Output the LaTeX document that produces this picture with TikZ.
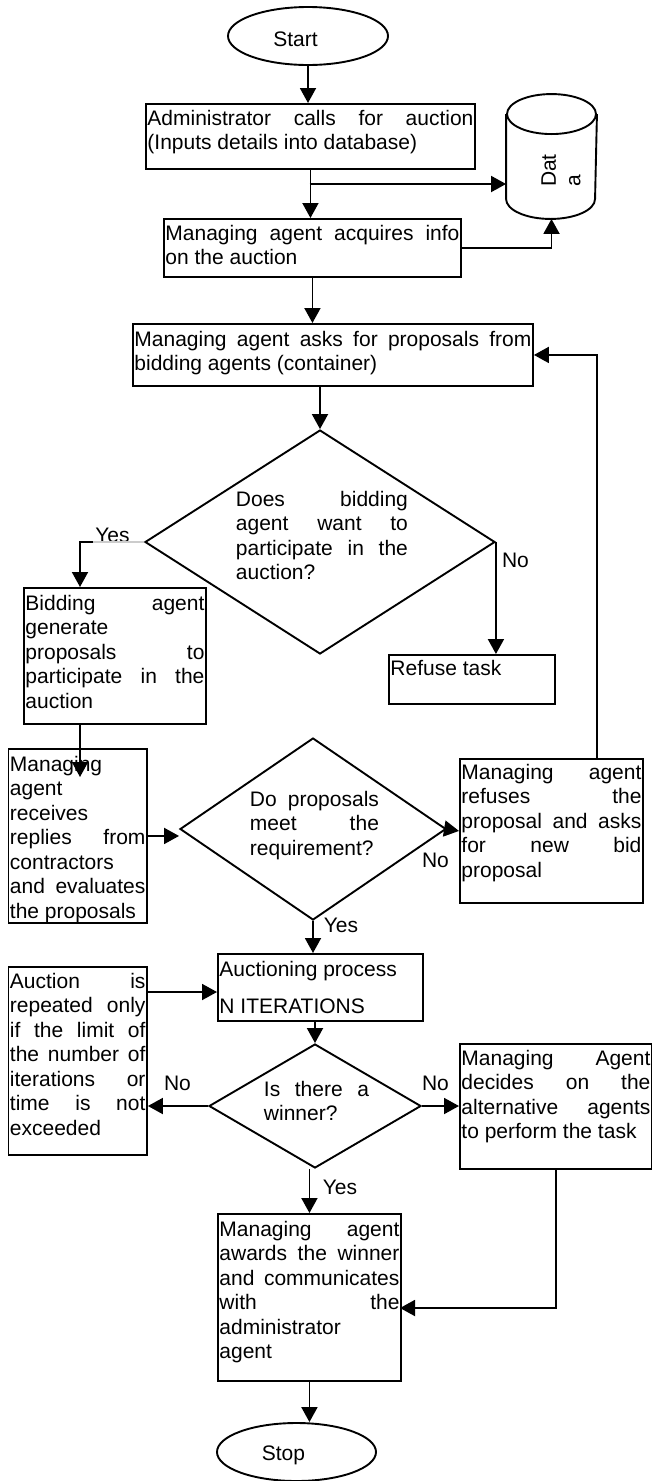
\documentclass[tikz,border=0pt]{standalone}
\usepackage{fontspec}
\setmainfont{Liberation Sans}
\usetikzlibrary{arrows.meta,shapes.geometric,calc}
\newcommand{\bxt}[4][20pt]{\parbox[t][\dimexpr #3-3pt\relax][t]{\dimexpr #2-3pt\relax}{\rule{0pt}{#1}#4}}
\newcommand{\txtb}[2]{\parbox[t]{#1}{\rule{0pt}{21.5pt}#2}}
\begin{document}
\begin{tikzpicture}[x=1pt,y=-1pt,line width=1.9pt,
  every node/.style={font=\fontsize{21}{24.5}\selectfont},
  box/.style={draw,rectangle,inner sep=1.5pt,anchor=north west},
  txtn/.style={inner sep=0pt,anchor=north west},
  lbl/.style={inner sep=0pt},
  term/.style={draw,ellipse,inner sep=0pt},
  dec/.style={draw,diamond,inner sep=0pt},
  arr/.style={-{Triangle[length=15pt,width=16pt]}}]

\useasboundingbox (0,0) rectangle (652,1481);

% terminals
\node[term,minimum width=160pt,minimum height=58pt] (start) at (308,36) {};
\node[lbl] (startt) at (295.5,39) {Start};

% boxes
\node[box] (b1) at (145,103) {\bxt{329pt}{65pt}{Administrator\hfill calls\hfill for\hfill auction\\(Inputs details into database)}};

\node[inner sep=0pt,minimum width=89pt,minimum height=123pt] (db) at (551.5,156.5) {};
\draw ($(db.north)+(0,20)$) ellipse [x radius=44.5pt, y radius=20pt];
\draw ($(db.north west)+(0,20)$) -- ($(db.south west)+(0,-20)$) arc[start angle=180, end angle=360, x radius=44.5pt, y radius=20pt] -- ($(db.north east)+(0,20)$);
\node[lbl,rotate=90,align=left] (dbt) at (561,170.5) {Dat\\a};

\node[box] (b2) at (163,218) {\bxt{297pt}{58pt}{Managing\hfill agent\hfill acquires\hfill info\\on the auction}};

\node[box] (b3) at (132,323) {\bxt[21pt]{400pt}{62pt}{Managing\hfill agent\hfill asks\hfill for\hfill proposals\hfill from\\bidding agents (container)}};

\node[dec,minimum width=350pt,minimum height=224pt] (d1) at (320,542) {};
\node[txtn] (d1t) at (235,484) {\txtb{172pt}{Does\hfill bidding\\agent\hfill want\hfill to\\participate\hfill in\hfill the\\auction?}};

\node[box] (b4) at (23,587) {\bxt[21pt]{182pt}{136pt}{Bidding\hfill agent\\generate\\proposals\hfill to\\participate\hfill in\hfill the\\auction}};

\node[box] (ref) at (388,654) {\bxt[19pt]{166pt}{49pt}{Refuse task}};

\node[box] (b5) at (7.5,748) {\bxt[21pt]{138.5pt}{174pt}{Managing\\agent\\receives\\replies\hfill from\\contractors\\and\hfill evaluates\\the proposals}};

\node[dec,minimum width=266pt,minimum height=182pt] (d2) at (313,829) {};
\node[txtn] (d2t) at (249,784) {\txtb{129pt}{Do\hfill proposals\\meet\hfill the\\requirement?}};

\node[box] (b6) at (459,758) {\bxt[19pt]{183pt}{144pt}{Managing\hfill agent\\refuses\hfill the\\proposal\hfill and\hfill asks\\for\hfill new\hfill bid\\proposal}};

\node[box] (auc) at (217,953) {\bxt[21pt]{205pt}{67pt}{Auctioning process\\[12.5pt]N ITERATIONS}};

\node[box] (b7) at (7.5,966) {\bxt{138.5pt}{188pt}{Auction\hfill is\\repeated\hfill only\\if\hfill the\hfill limit\hfill of\\the\hfill number\hfill of\\iterations\hfill or\\time\hfill is\hfill not\\exceeded}};

\node[dec,minimum width=212pt,minimum height=124pt] (d3) at (315,1106) {};
\node[txtn] (d3t) at (263,1074) {\txtb{105pt}{Is\hfill there\hfill a\\winner?}};

\node[box] (b8) at (459,1043) {\bxt{192pt}{125pt}{Managing\hfill Agent\\decides\hfill on\hfill the\\alternative\hfill agents\\to perform the task}};

\node[box] (aw) at (217,1213) {\bxt[21pt]{183pt}{167pt}{Managing\hfill agent\\awards\hfill the\hfill winner\\and\hfill communicates\\with\hfill the\\administrator\\agent}};

\node[term,minimum width=159pt,minimum height=58pt] (stop) at (296.5,1452) {};
\node[lbl] (stopt) at (283.5,1455) {Stop};

% labels
\node[lbl] (y1) at (112.5,535) {Yes};
\node[lbl] (n1) at (515.5,560) {No};
\node[lbl] (n2) at (435.5,860) {No};
\node[lbl] (y2) at (341,925) {Yes};
\node[lbl] (n3) at (177.5,1083) {No};
\node[lbl] (n4) at (435.5,1083) {No};
\node[lbl] (y3) at (340,1187) {Yes};

% connectors
\draw[arr] (start.south) -- (start.south |- b1.north);
\draw[arr] (b1.south) -- (b1.south |- b2.north);
\coordinate (br) at (309.5,184);
\draw[arr] (br) -- (br -| db.west);
\draw[arr] (b2.east) -| (db.south);
\draw[arr] (b2.south) -- (b2.south |- b3.north);
\draw[arr] (d1.north |- b3.south) -- (d1.north);
\coordinate (yc) at (93,542);
\draw[black!20] (d1.west) -- (yc);
\coordinate (b4in) at ($(b4.north west)+(57,0)$);
\draw[arr] (yc) -| (b4in);
\draw[arr] (d1.east) -- (d1.east |- ref.north);
\coordinate (b4out) at ($(b4.south west)+(57,0)$);
\coordinate (b5in) at ($(b5.north west)+(72.5,29)$);
\draw[arr] (b4out) -- (b5in);
\draw[arr] (b5.east) -- (b5.east -| d2.west);
\draw[arr] (d2.east) -- (b6.west);
\coordinate (fb) at ($(b6.north west)+(138,0)$);
\draw[arr] (fb) |- (b3.east);
\draw[arr] (d2.south) -- (d2.south |- auc.north);
\coordinate (b7o) at ($(b7.north east)+(0,26)$);
\draw[arr] (b7o) -- (b7o -| auc.west);
\draw[arr] (d3.north |- auc.south) -- (d3.north);
\draw[arr] (d3.west) -- (d3.west -| b7.east);
\draw[arr] (d3.east) -- (d3.east -| b8.west);
\draw[arr] (aw.north |- d3.south) -- (aw.north);
\coordinate (awin) at (400,1308);
\draw[arr] (b8.south) |- (awin);
\draw[arr] (aw.south) -- (aw.south |- stop.north);
\end{tikzpicture}
\end{document}
